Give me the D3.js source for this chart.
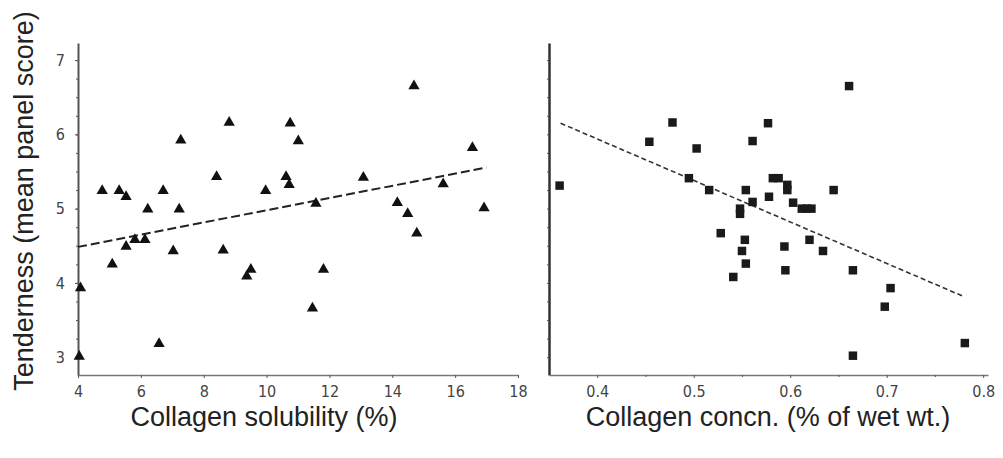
<!DOCTYPE html>
<html>
<head>
<meta charset="utf-8">
<script src="https://cdn.jsdelivr.net/npm/d3@7"></script>
<style>
  body { margin: 0; background: #fff; }
  svg { display: block; }
  .tick text { font-family: "DejaVu Sans Condensed", "Liberation Sans Narrow", sans-serif; fill: #444; }
</style>
</head>
<body>
<svg id="chart" width="1003" height="458"></svg>
<script>
// left panel: collagen solubility (%) vs tenderness
const solubility = [14.69, 8.81, 10.75, 7.27, 11.01, 16.55, 8.41, 10.62, 10.72, 13.08, 15.62, 4.77,
  5.31, 5.53, 6.71, 9.97, 6.22, 7.22, 11.57, 14.16, 14.49, 16.92, 14.78, 5.53, 5.81, 6.13,
  7.03, 8.62, 5.09, 9.50, 9.37, 11.81, 11.46, 6.58, 4.08, 4.04];
const tendernessA = [6.65, 6.16, 6.15, 5.92, 5.91, 5.82, 5.43, 5.43, 5.32, 5.42, 5.33, 5.24,
  5.24, 5.16, 5.24, 5.24, 4.99, 4.99, 5.07, 5.08, 4.93, 5.01, 4.67, 4.49, 4.58, 4.58,
  4.43, 4.44, 4.25, 4.18, 4.09, 4.18, 3.66, 3.18, 3.93, 3.01];
const fitA = [[4.0, 4.485], [17.0, 5.554]];

// right panel: collagen concentration (% of wet wt.) vs tenderness
const concn = [0.661, 0.478, 0.577, 0.454, 0.561, 0.503, 0.361, 0.495, 0.516, 0.582, 0.588, 0.597,
  0.597, 0.554, 0.578, 0.645, 0.561, 0.548, 0.548, 0.603, 0.612, 0.617, 0.622, 0.528, 0.620,
  0.553, 0.594, 0.550, 0.634, 0.554, 0.595, 0.541, 0.665, 0.704, 0.698, 0.781, 0.665];
const tendernessB = [6.65, 6.16, 6.15, 5.90, 5.91, 5.81, 5.31, 5.41, 5.25, 5.41, 5.41, 5.32,
  5.25, 5.25, 5.16, 5.25, 5.09, 5.00, 4.93, 5.08, 5.00, 5.00, 5.00, 4.67, 4.58,
  4.58, 4.49, 4.43, 4.43, 4.26, 4.17, 4.08, 4.17, 3.93, 3.68, 3.19, 3.02];
const fitB = [[0.362, 6.15], [0.781, 3.81]];

const yTicks = [3, 4, 5, 6, 7];
const xTicksA = [4, 6, 8, 10, 12, 14, 16, 18];
const xTicksB = [0.4, 0.5, 0.6, 0.7, 0.8];

const svg = d3.select('#chart');
const axisColor = '#555';

const y = d3.scaleLinear().domain([2.76, 7.23]).range([375, 43]);
const xA = d3.scaleLinear().domain([4, 18]).range([78, 518]);
const xB = d3.scaleLinear().domain([0.35, 0.805]).range([549, 988]);

const styleAxis = (g, size) => {
  g.select('.domain').attr('stroke', axisColor).attr('stroke-width', 2);
  g.selectAll('.tick line').attr('stroke', axisColor);
  g.selectAll('.tick text').style('font-size', size + 'px');
};

// left y axis (labelled) + minor ticks
const gyA = svg.append('g')
  .attr('transform', `translate(${xA(4)},0)`)
  .call(d3.axisLeft(y).tickValues(yTicks).tickSize(3).tickSizeOuter(0).tickPadding(10)
    .tickFormat(d3.format('d')));
styleAxis(gyA, 16);
gyA.append('g')
  .call(d3.axisLeft(y).tickValues(d3.range(3, 7.01, 0.25)).tickSize(2).tickFormat(''))
  .call(g => g.select('.domain').remove())
  .selectAll('line').attr('stroke', axisColor);

const gxA = svg.append('g')
  .attr('transform', `translate(0,${y(2.76)})`)
  .call(d3.axisBottom(xA).tickValues(xTicksA).tickSize(3).tickSizeOuter(0).tickPadding(8));
styleAxis(gxA, 16);
gxA.select('.domain').attr('stroke-width', 1.5).attr('stroke', '#777');

// right axes (no y labels)
const gyB = svg.append('g')
  .attr('transform', `translate(${xB(0.35)},0)`)
  .call(d3.axisLeft(y).tickValues(d3.range(3, 7.01, 0.25)).tickSize(2).tickSizeOuter(0).tickFormat(''));
styleAxis(gyB, 16);
gyB.select('.domain').attr('stroke', '#333').attr('stroke-width', 2.5);

const gxB = svg.append('g')
  .attr('transform', `translate(0,${y(2.76)})`)
  .call(d3.axisBottom(xB).tickValues(xTicksB).tickSize(3).tickSizeOuter(0).tickPadding(8)
    .tickFormat(d3.format('.1f')));
styleAxis(gxB, 16);
gxB.select('.domain').attr('stroke-width', 1.5).attr('stroke', '#777');
gxB.append('g')
  .call(d3.axisBottom(xB).tickValues(d3.range(0.45, 0.8, 0.1)).tickSize(2).tickFormat(''))
  .call(g => g.select('.domain').remove())
  .selectAll('line').attr('stroke', axisColor);

// trend lines
const line = sx => d3.line().x(d => sx(d[0])).y(d => y(d[1]));
svg.append('path').datum(fitA)
  .attr('d', line(xA))
  .attr('fill', 'none').attr('stroke', '#222').attr('stroke-width', 2)
  .attr('stroke-dasharray', '9,4');
svg.append('path').datum(fitB)
  .attr('d', line(xB))
  .attr('fill', 'none').attr('stroke', '#333').attr('stroke-width', 1.6)
  .attr('stroke-dasharray', '5,3');

// markers
const tri = d3.symbol().type(d3.symbolTriangle).size(55);
svg.append('g').selectAll('path')
  .data(solubility.map((v, i) => [v, tendernessA[i]]))
  .join('path')
  .attr('d', tri)
  .attr('transform', d => `translate(${xA(d[0])},${y(d[1])})`)
  .attr('fill', '#111');

const sq = d3.symbol().type(d3.symbolSquare).size(72);
svg.append('g').selectAll('path')
  .data(concn.map((v, i) => [v, tendernessB[i]]))
  .join('path')
  .attr('d', sq)
  .attr('transform', d => `translate(${xB(d[0])},${y(d[1])})`)
  .attr('fill', '#1a1a1a');

// titles
const titleFont = '"Liberation Sans", Arial, sans-serif';
svg.append('text')
  .attr('x', 264).attr('y', 426)
  .attr('text-anchor', 'middle')
  .style('font-family', titleFont).style('font-size', '27px').attr('fill', '#222')
  .text('Collagen solubility (%)');
svg.append('text')
  .attr('x', 768).attr('y', 426)
  .attr('text-anchor', 'middle')
  .style('font-family', titleFont).style('font-size', '27px').attr('fill', '#222')
  .text('Collagen concn. (% of wet wt.)');
svg.append('text')
  .attr('transform', 'translate(33,201) rotate(-90)')
  .attr('text-anchor', 'middle')
  .style('font-family', titleFont).style('font-size', '27px').attr('fill', '#222')
  .text('Tenderness (mean panel score)');
</script>
</body>
</html>
